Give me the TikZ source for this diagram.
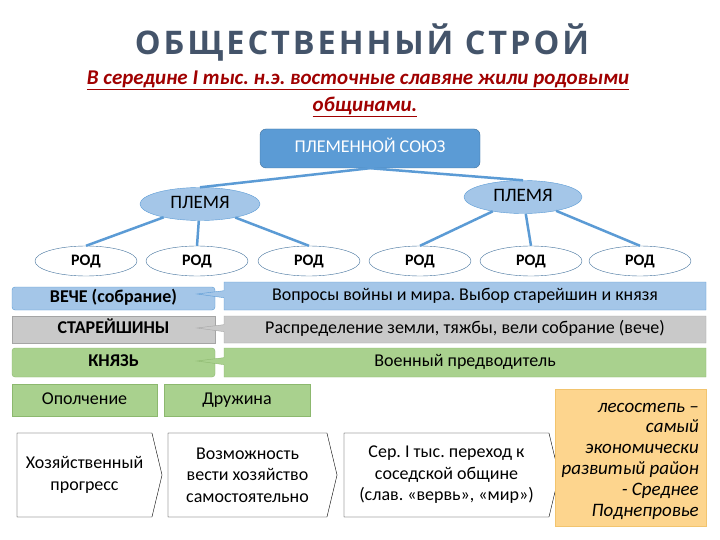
\documentclass[tikz,border=0pt]{standalone}
\usepackage{fontspec}
\setmainfont{Carlito}
\newfontfamily\titlefont[LetterSpace=9]{Open Sans}
\usetikzlibrary{shapes.geometric,shapes.symbols,shapes.callouts}

\definecolor{titlegray}{HTML}{44546A}
\definecolor{subred}{HTML}{A00000}
\definecolor{boxblue}{HTML}{5B9BD5}
\definecolor{edgeblue}{HTML}{41719C}
\definecolor{lightblue}{HTML}{A4C6E8}
\definecolor{rowgray}{HTML}{C9C9C9}
\definecolor{rowgrayedge}{HTML}{A5A5A5}
\definecolor{rowgreen}{HTML}{A9D18E}
\definecolor{rowgreenedge}{HTML}{8CB86E}
\definecolor{noteorange}{HTML}{FDD58E}
\definecolor{noteedge}{HTML}{F2C46E}

\newcommand{\fs}[1]{\fontsize{#1}{#1}\selectfont}

\tikzset{
	oneline/.style={inner sep=0pt, text height=12.5pt, text depth=4pt},
	plemya/.style={ellipse, draw=boxblue, fill=lightblue, minimum width=120pt, minimum height=33pt, oneline, font=\fs{19}},
	rod/.style={ellipse, draw=edgeblue, fill=white, minimum width=102pt, minimum height=30pt, oneline, font=\bfseries\fs{16}},
	link/.style={boxblue, line width=2.5pt},
	leftbox/.style={draw=#1, rounded corners=3pt, minimum width=203pt, oneline, font=\bfseries\fs{18}},
	rightbox/.style={rectangle callout, draw=#1, minimum width=482pt, oneline, callout pointer width=7pt, font=\fs{18}},
	armybox/.style={draw=rowgreenedge, fill=rowgreen, minimum height=32pt, oneline, font=\fs{18}},
	stagebox/.style={signal, signal to=east, signal pointer angle=153, draw=black, fill=white, minimum height=84pt, inner sep=0pt, align=center, font=\fontsize{18}{21.5}\selectfont}
}

\begin{document}
\frenchspacing
\begin{tikzpicture}[x=1pt,y=-1pt]
	\useasboundingbox[fill=white] (0,0) rectangle (720,540);

	% заголовок
	\node (title) at (362,43) {\titlefont\bfseries\fs{32.5}\color{titlegray}ОБЩЕСТВЕННЫЙ СТРОЙ};
	\node (sub1) at (358,80) {\bfseries\itshape\fs{21}\color{subred}\underline{В середине I тыс. н.э. восточные славяне жили родовыми}};
	\node (sub2) at (365,107) {\bfseries\itshape\fs{21}\color{subred}\underline{общинами.}};

	% дерево
	\node[draw=edgeblue, fill=boxblue, rounded corners=6pt, minimum width=220pt, minimum height=39pt, oneline, text=white, font=\fs{18}] (soyuz) at (370,148.5) {ПЛЕМЕННОЙ СОЮЗ};
	\node[plemya] (plemyaL) at (200,204) {ПЛЕМЯ};
	\node[plemya, minimum width=118pt] (plemyaR) at (523,197) {ПЛЕМЯ};
	\node[rod] (rod1) at (86,261) {РОД};
	\node[rod] (rod2) at (197,261) {РОД};
	\node[rod] (rod3) at (309,261) {РОД};
	\node[rod] (rod4) at (420,261) {РОД};
	\node[rod] (rod5) at (531,261) {РОД};
	\node[rod] (rod6) at (640,261) {РОД};

	\draw[link] (soyuz.south) -- (plemyaL.north);
	\draw[link] (soyuz.south) -- (plemyaR.north);
	\draw[link] (plemyaL) -- (rod1.north);
	\draw[link] (plemyaL) -- (rod2.north);
	\draw[link] (plemyaL) -- (rod3.north);
	\draw[link] (plemyaR) -- (rod4.north);
	\draw[link] (plemyaR) -- (rod5.north);
	\draw[link] (plemyaR) -- (rod6.north);

	% органы власти
	\node[leftbox=boxblue, fill=lightblue, minimum height=23pt] (veche) at (113.5,298.5) {ВЕЧЕ (собрание)};
	\node[leftbox=rowgrayedge, fill=rowgray, rounded corners=0pt, minimum height=27pt] (starei) at (113.5,329.5) {СТАРЕЙШИНЫ};
	\node[leftbox=rowgreenedge, fill=rowgreen, minimum height=29pt] (knyaz) at (113.5,362.5) {КНЯЗЬ};

	\node[rightbox=boxblue, fill=lightblue, minimum height=28pt, callout absolute pointer={(197,294)}] (vecheT) at (465,296) {Вопросы войны и мира. Выбор старейшин и князя};
	\node[rightbox=rowgrayedge, fill=rowgray, minimum height=27pt, callout absolute pointer={(197,328)}] (stareiT) at (465,329.5) {Распределение земли, тяжбы, вели собрание (вече)};
	\node[rightbox=rowgreenedge, fill=rowgreen, minimum height=29pt, callout absolute pointer={(197,361)}] (knyazT) at (465,362.5) {Военный предводитель};

	\node[armybox, minimum width=145pt] (opol) at (84.5,400) {Ополчение};
	\node[armybox, minimum width=146pt] (druzh) at (237,400) {Дружина};

	% этапы
	\node[stagebox, minimum width=145pt] (st1) at (84.5,475) {Хозяйственный\\прогресс};
	\node[stagebox, minimum width=169pt] (st2) at (247.5,475) {Возможность\\вести хозяйство\\самостоятельно};
	\node[stagebox, minimum width=215pt] (st3) at (446.5,475) {Сер. I тыс. переход к\\соседской общине\\(слав. «вервь», «мир»)};

	\node[draw=noteedge, fill=noteorange, minimum width=151pt, minimum height=137pt] (note) at (630.5,457.5) {};
	\node[anchor=base east, inner sep=0pt, align=right, font=\itshape\fontsize{19}{20.8}\selectfont] (noteText) at (699,516) {лесостепь –\\самый\\экономически\\развитый район\\- Среднее\\Поднепровье};
\end{tikzpicture}
\end{document}
